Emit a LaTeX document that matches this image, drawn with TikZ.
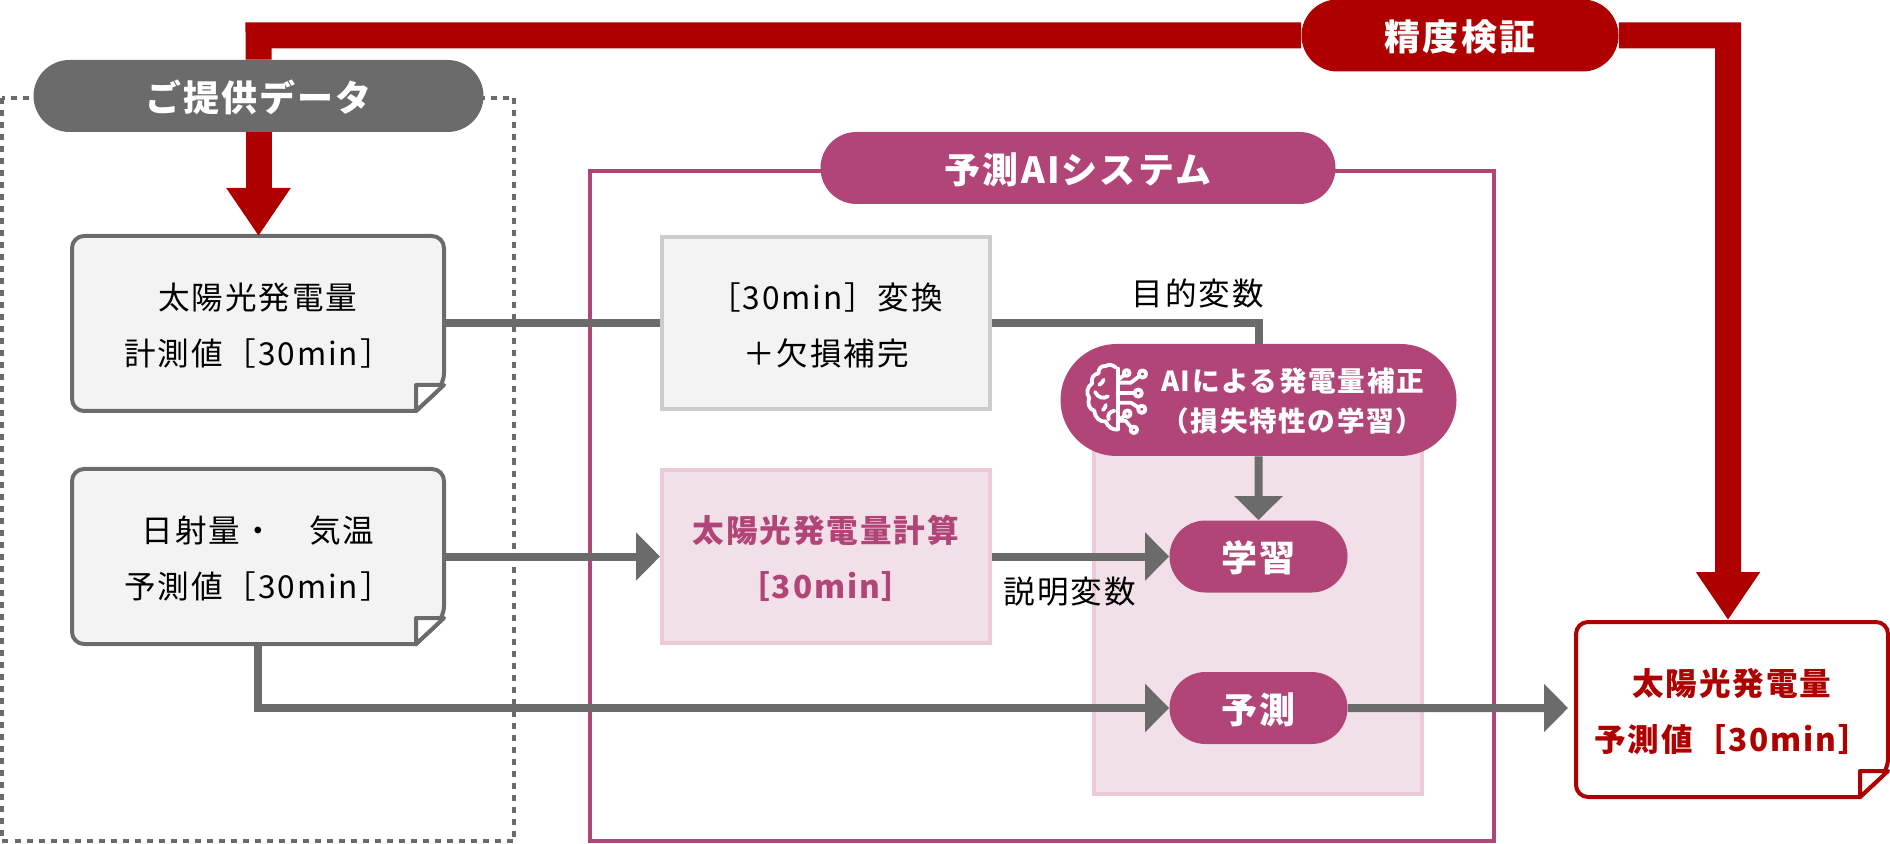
\documentclass[tikz,border=0pt]{standalone}
\usepackage{fontspec}
\setmainfont{Noto Sans CJK JP}[LetterSpace=6]
\usetikzlibrary{arrows.meta,shapes.misc}
\definecolor{darkgray}{HTML}{6B6B6B}
\definecolor{darkred}{HTML}{AF0000}
\definecolor{rose}{HTML}{B24577}
\definecolor{palerose}{HTML}{F2E0E9}
\definecolor{edgerose}{HTML}{ECCAD8}
\definecolor{paper}{HTML}{F3F3F3}
\definecolor{edgegray}{HTML}{CCCCCC}
\tikzset{
  textbody/.style={font=\fontsize{15.8}{28}\selectfont},
  textblock/.style={textbody, align=center, text height=43.7pt, text depth=1.9pt},
  textbold/.style={textblock, font=\fontsize{15.8}{28}\selectfont\bfseries},
  pill/.style={rounded rectangle, text=white, minimum height=36pt, text height=17.6pt, text depth=2.2pt,
    font=\fontsize{18}{20}\selectfont\bfseries},
  graypill/.style={pill, fill=darkgray},
  redpill/.style={pill, fill=darkred},
  rosepill/.style={pill, fill=rose},
  graynote/.style={draw=darkgray, fill=paper},
  rednote/.style={draw=darkred, fill=white},
  flatbox/.style={rectangle, line width=2pt, minimum width=164pt, minimum height=86pt},
  grayline/.style={draw=darkgray, line width=4pt},
  grayarrow/.style={grayline, -{Triangle[length=12pt,width=23.5pt]}},
  redline/.style={draw=darkred, line width=13pt},
  redarrow/.style={redline, -{Triangle[length=24pt,width=30.5pt]}}
}
\newcommand{\notebox}[7]{
  \begin{scope}[shift={(#2,#3)}]
    \draw[#5, line width=2pt, rounded corners=6pt] (0,87) -- (0,0) -- (#4,0) -- (#4,149)
      [sharp corners] -- (#4-28,175) [rounded corners=6pt] -- (0,175) -- cycle;
    \draw[#5, line width=2pt, fill=white, line join=round] (#4,149) -- (#4-28,149) -- (#4-28,175) -- cycle;
    \draw (#4/2,87.5) node (#1) [rectangle, outer sep=1pt, minimum width=#4*0.5pt, minimum height=87.5pt, #6] {#7};
  \end{scope}
}
\begin{document}
\begin{tikzpicture}[x=0.5pt,y=-0.5pt]
\tikzstyle{every node}=[inner sep=0pt]
\useasboundingbox (0,0) rectangle (1890,844);
\draw [darkgray, line width=2pt, dash pattern=on 3pt off 3pt] (1.5,98) rectangle (514,841);
\draw [rose, line width=2pt] (590,171) rectangle (1494,841);
\draw [edgerose, fill=palerose, line width=2pt] (1094,400) rectangle (1422,794);

\draw (1460,35.5) node (verify) [redpill, minimum width=158.5pt] {精度検証};
\draw (258.5,96) node (supplied) [graypill, minimum width=225pt] {ご提供データ};
\draw (1078,168) node (system) [rosepill, minimum width=257.5pt] {予測AIシステム};
\draw (1258.5,400) node (correct) [rosepill, minimum width=198pt, minimum height=56pt, align=center,
  text height=33.3pt, text depth=1.7pt,
  font=\fontsize{13.8}{20}\selectfont\bfseries] {\hspace{34pt}AIによる発電量補正\\\hspace{34pt}（損失特性の学習）};
\draw (1258.5,556.5) node (learn) [rosepill, minimum width=89pt] {学習};
\draw (1258.5,708) node (forecast) [rosepill, minimum width=89pt] {予測};

\notebox{measured}{72}{236}{372}{graynote}{textblock}{太陽光発電量\\計測値［30min］}
\notebox{weather}{72}{469}{372}{graynote}{textblock}{日射量・　気温\\予測値［30min］}
\notebox{output}{1576}{622}{312}{rednote}{textbold, text=darkred}{太陽光発電量\\予測値［30min］}

\draw (826,323.5) node (convert) [flatbox, draw=edgegray, fill=paper, textblock] {［30min］変換\\＋欠損補完};
\draw (826,556.5) node (calc) [flatbox, draw=edgerose, fill=palerose, textbold, text=rose] {太陽光発電量計算\\［30min］};

\coordinate (cornerl) at (258.5,35.5);
\coordinate (cornerr) at (1728,35.5);
\draw [redline] (verify) -- (cornerl) -- (supplied);
\draw [redarrow, shorten >=-1pt] (supplied) -- (supplied |- measured.north);
\draw [redarrow] (verify) -- (cornerr) -- (cornerr |- output.north);
\draw [grayline] (measured) -- (convert);
\draw [grayline] (convert) -| (correct);
\draw [grayarrow] (correct) -- (learn);
\draw [grayarrow] (weather) -- (calc);
\draw [grayarrow] (calc) -- (learn);
\draw [grayarrow] (weather) |- (forecast);
\draw [grayarrow, shorten >=3pt] (forecast) -- (forecast -| output.west);

\draw (1198,293) node (target) [textbody] {目的変数};
\draw (1070,592) node (explain) [textbody] {説明変数};

\begin{scope}[shift={(1077,356)}, x=0.18pt, y=-0.18pt, white, line width=1.9pt, line cap=round, line join=round]
\draw (108,32) .. controls (98,24) and (88,22) .. (80,28) .. controls (68,26) and (58,36) .. (60,48)
  .. controls (46,50) and (38,62) .. (42,76) .. controls (28,86) and (24,104) .. (34,116)
  .. controls (28,132) and (34,148) .. (48,152) .. controls (50,172) and (64,184) .. (80,182)
  .. controls (86,198) and (100,206) .. (113,204);
\draw (113,35) -- (113,204);
\draw (50,100) .. controls (58,116) and (74,120) .. (86,112);
\draw (62,80) .. controls (68,76) and (72,72) .. (74,66);
\draw (104,152) .. controls (90,154) and (84,164) .. (88,176);
\draw (72,150) .. controls (76,146) and (80,142) .. (80,136);
\draw (113,66) -- (130,54);
\draw (138,47) circle [radius=8];
\draw (113,74) -- (150,74) -- (173,56);
\draw (182,50) circle [radius=10];
\draw (113,103) -- (160,103);
\draw (170,103) circle [radius=10];
\draw (113,130) -- (150,130) -- (171,143);
\draw (180,148) circle [radius=10];
\draw (113,180) -- (132,166);
\draw (140,160) circle [radius=9];
\draw (113,180) -- (135,180) -- (150,198);
\draw (158,205) circle [radius=9];
\end{scope}
\end{tikzpicture}
\end{document}
